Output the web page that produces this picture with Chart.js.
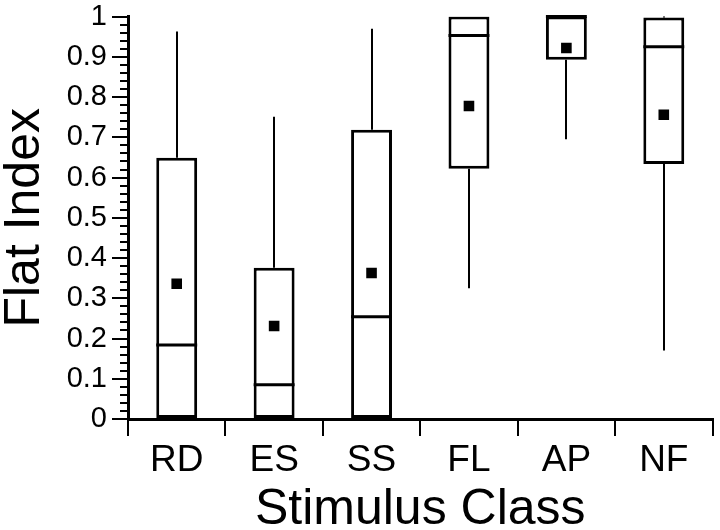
<!DOCTYPE html>
<html lang="en">
<head>
<meta charset="UTF-8">
<title>Flat Index by Stimulus Class</title>
<script src="https://cdn.jsdelivr.net/npm/chart.js"></script>
<style>
  body { margin: 0; background: #fff; }
</style>
</head>
<body>
<canvas id="flatChart" width="720" height="530"></canvas>
<script>
// box plot values
const classes = ['RD', 'ES', 'SS', 'FL', 'AP', 'NF'];
const whiskerLow = [0, 0, 0, 0.325, 0.695, 0.17];
const boxLow = [0, 0, 0, 0.622, 0.893, 0.634];
const medians = [0.184, 0.085, 0.254, 0.953, 1, 0.925];
const boxHigh = [0.649, 0.376, 0.719, 1, 1, 0.998];
const whiskerHigh = [0.963, 0.751, 0.970, 1, 1, 1];
const means = [0.336, 0.231, 0.363, 0.778, 0.922, 0.756];

const FONT = '"Liberation Sans", Arial, Helvetica, sans-serif';

// whiskers, medians and the minor y ticks
const boxParts = {
    id: 'boxParts',
    beforeDatasetsDraw(chart) {
        const { ctx, scales: { x, y } } = chart;
        ctx.save();
        ctx.strokeStyle = '#000';
        ctx.lineWidth = 2;
        classes.forEach((c, i) => {
            const px = Math.round(x.getPixelForValue(i));
            ctx.beginPath();
            ctx.moveTo(px, y.getPixelForValue(whiskerLow[i]));
            ctx.lineTo(px, y.getPixelForValue(boxLow[i]));
            ctx.moveTo(px, y.getPixelForValue(boxHigh[i]));
            ctx.lineTo(px, y.getPixelForValue(whiskerHigh[i]));
            ctx.stroke();
        });
        ctx.restore();
    },
    afterDatasetDraw(chart, args) {
        if (args.index !== 0) return;
        const { ctx, scales: { y } } = chart;
        ctx.save();
        ctx.strokeStyle = '#000';
        ctx.lineWidth = 3;
        args.meta.data.forEach((bar, i) => {
            const half = bar.width / 2;
            const py = y.getPixelForValue(medians[i]);
            ctx.beginPath();
            ctx.moveTo(bar.x - half, py);
            ctx.lineTo(bar.x + half, py);
            ctx.stroke();
        });
        ctx.restore();
    },
    afterDraw(chart) {
        const { ctx, chartArea, scales: { y } } = chart;
        ctx.save();
        ctx.strokeStyle = '#000';
        ctx.lineWidth = 2;
        for (let k = 1; k < 50; k++) {
            if (k % 5 === 0) continue;
            const py = Math.round(y.getPixelForValue(k / 50));
            ctx.beginPath();
            ctx.moveTo(chartArea.left - 8, py);
            ctx.lineTo(chartArea.left, py);
            ctx.stroke();
        }
        ctx.restore();
    }
};

const ctx = document.getElementById('flatChart').getContext('2d');
new Chart(ctx, {
    type: 'bar',
    data: {
        labels: classes,
        datasets: [
            {
                label: 'Box',
                data: classes.map((c, i) => [boxLow[i], boxHigh[i]]),
                backgroundColor: '#fff',
                borderColor: '#000',
                borderWidth: 3,
                borderSkipped: false,
                categoryPercentage: 1,
                barPercentage: 0.42,
                order: 2
            },
            {
                type: 'line',
                label: 'Mean',
                data: means,
                showLine: false,
                pointStyle: 'rect',
                pointRadius: 7.5,
                pointBackgroundColor: '#000',
                pointBorderWidth: 0,
                order: 1
            }
        ]
    },
    options: {
        responsive: false,
        animation: false,
        layout: { padding: { top: 12, right: 3, left: 0, bottom: 0 } },
        plugins: {
            legend: { display: false },
            tooltip: { enabled: false }
        },
        scales: {
            x: {
                afterFit(scale) { scale.height = 111; },
                border: { color: '#000', width: 3 },
                grid: { offset: true, drawOnChartArea: false, color: '#000', lineWidth: 2, tickLength: 17 },
                ticks: { color: '#000', padding: 6, font: { family: FONT, size: 37, lineHeight: 1 } },
                title: {
                    display: true,
                    text: 'Stimulus Class',
                    color: '#000',
                    padding: 0,
                    font: { family: FONT, size: 50, lineHeight: 0.8 }
                }
            },
            y: {
                min: 0,
                max: 1,
                afterFit(scale) { scale.width = 128; },
                border: { color: '#000', width: 3 },
                grid: { drawOnChartArea: false, color: '#000', lineWidth: 2, tickLength: 16 },
                ticks: {
                    stepSize: 0.1,
                    color: '#000',
                    padding: 5,
                    font: { family: FONT, size: 29, lineHeight: 0.8 },
                    callback: v => +v.toFixed(1)
                },
                title: {
                    display: true,
                    text: 'Flat Index',
                    color: '#000',
                    padding: 0,
                    font: { family: FONT, size: 50, lineHeight: 1 }
                }
            }
        }
    },
    plugins: [boxParts]
});
</script>
</body>
</html>
